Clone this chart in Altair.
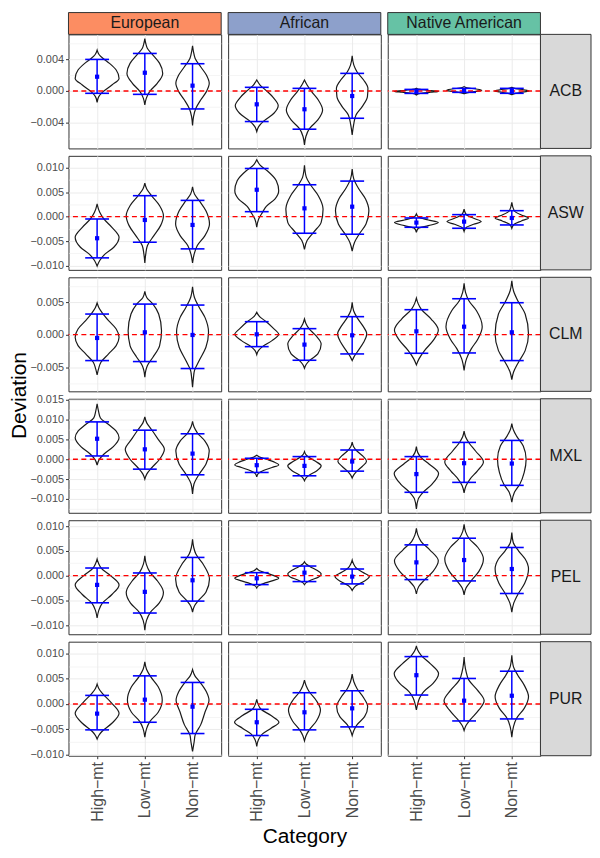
import altair as alt
import pandas as pd

FONT = "Liberation Sans"

groups = ["European", "African", "Native American"]
group_colors = ["#FC8D62", "#8DA0CB", "#66C2A5"]
pops = ["ACB", "ASW", "CLM", "MXL", "PEL", "PUR"]
cats = ["High−mt", "Low−mt", "Non−mt"]
ref_line = [0.0]

y_domain = {
    "ACB": [-0.0072, 0.0071],
    "ASW": [-0.0109, 0.01245],
    "CLM": [-0.0087, 0.0088],
    "MXL": [-0.0135, 0.01525],
    "PEL": [-0.01185, 0.0112],
    "PUR": [-0.01026, 0.01237],
}
y_major = {
    "ACB": [-0.004, 0.0, 0.004],
    "ASW": [-0.01, -0.005, 0.0, 0.005, 0.01],
    "CLM": [-0.005, 0.0, 0.005],
    "MXL": [-0.01, -0.005, 0.0, 0.005, 0.01, 0.015],
    "PEL": [-0.01, -0.005, 0.0, 0.005, 0.01],
    "PUR": [-0.01, -0.005, 0.0, 0.005, 0.01],
}
y_minor = {
    "ACB": [-0.006, -0.002, 0.002, 0.006],
    "ASW": [-0.0075, -0.0025, 0.0025, 0.0075],
    "CLM": [-0.0075, -0.0025, 0.0025, 0.0075],
    "MXL": [-0.0125, -0.0075, -0.0025, 0.0025, 0.0075, 0.0125],
    "PEL": [-0.0075, -0.0025, 0.0025, 0.0075],
    "PUR": [-0.0075, -0.0025, 0.0025, 0.0075],
}

# Violin outlines: knot positions (y) and half-widths (w, category units),
# order: European High/Low/Non, African High/Low/Non, Native American High/Low/Non
ACB = dict(
    y=[
        [-0.00142, -0.00071, -0.00008, 0.00075, 0.00158, 0.00263, 0.00346, 0.00408, 0.00458, 0.00513],
        [-0.00175, -0.00092, -0.00008, 0.00096, 0.00221, 0.00346, 0.0045, 0.00533, 0.00596, 0.00658],
        [-0.00433, -0.00321, -0.00217, -0.00113, -0.00008, 0.00096, 0.002, 0.00304, 0.00408, 0.00492, 0.00567],
        [-0.00508, -0.00446, -0.00375, -0.00279, -0.00183, -0.00092, 0.0, 0.00075, 0.00138],
        [-0.00675, -0.00571, -0.00475, -0.00363, -0.00238, -0.00113, -0.00008, 0.00075, 0.00138],
        [-0.0055, -0.00425, -0.003, -0.00196, -0.00071, 0.00033, 0.00138, 0.00242, 0.00325, 0.00442],
        [-0.0005, -0.0003, -0.00015, -0.00005, 0.00005, 0.0002, 0.00035],
        [-0.00035, -0.0002, -0.00005, 0.0001, 0.00025, 0.0004, 0.00055],
        [-0.00045, -0.0003, -0.00012, 0.0, 0.00015, 0.0003, 0.00045],
    ],
    w=[
        [0, 0.035, 0.125, 0.31, 0.46, 0.40, 0.26, 0.125, 0.04, 0],
        [0, 0.03, 0.10, 0.26, 0.375, 0.31, 0.17, 0.055, 0.02, 0],
        [0, 0.02, 0.07, 0.17, 0.29, 0.35, 0.29, 0.17, 0.055, 0.02, 0],
        [0, 0.04, 0.15, 0.36, 0.45, 0.36, 0.21, 0.07, 0],
        [0, 0.03, 0.10, 0.28, 0.38, 0.29, 0.15, 0.055, 0],
        [0, 0.03, 0.08, 0.21, 0.32, 0.33, 0.24, 0.10, 0.035, 0],
        [0, 0.08, 0.30, 0.46, 0.30, 0.08, 0],
        [0, 0.08, 0.25, 0.37, 0.25, 0.06, 0],
        [0, 0.08, 0.25, 0.36, 0.25, 0.08, 0],
    ],
    mean=[0.00179, 0.00229, 0.00067, -0.00167, -0.00229, -0.00063, -0.00008, 0.00008, 0.0],
    lo=[-0.00029, -0.00042, -0.00225, -0.00383, -0.00479, -0.00342, -0.0003, -0.00017, -0.00029],
    hi=[0.00396, 0.00471, 0.00342, 0.00046, 0.00033, 0.00221, 0.0002, 0.00033, 0.00033],
)

ASW = dict(
    y=[
        [-0.01014, -0.00898, -0.00762, -0.00626, -0.00422, -0.00218, -0.00048, 0.00088, 0.00259],
        [-0.00946, -0.00762, -0.00592, -0.00388, -0.00184, 0.0002, 0.00224, 0.00429, 0.00565, 0.00687],
        [-0.00946, -0.00762, -0.00592, -0.00388, -0.0015, 0.00122, 0.00327, 0.00463, 0.00612],
        [-0.00218, -0.00048, 0.00088, 0.00211, 0.00361, 0.00531, 0.00735, 0.00939, 0.01054, 0.01163],
        [-0.00673, -0.0049, -0.0032, -0.00116, 0.00156, 0.00429, 0.00633, 0.00803, 0.01054],
        [-0.00707, -0.00524, -0.00354, -0.0015, 0.00122, 0.00361, 0.00565, 0.00769, 0.00973],
        [-0.0032, -0.00238, -0.00184, -0.00122, -0.00068, -0.00014, 0.00054],
        [-0.003, -0.00218, -0.00156, -0.00102, -0.00034, 0.00034, 0.00156],
        [-0.00238, -0.00156, -0.00088, -0.00027, 0.00034, 0.00122, 0.00293],
    ],
    w=[
        [0, 0.055, 0.17, 0.35, 0.46, 0.31, 0.14, 0.055, 0],
        [0, 0.02, 0.055, 0.19, 0.33, 0.39, 0.31, 0.14, 0.04, 0],
        [0, 0.035, 0.10, 0.26, 0.355, 0.28, 0.14, 0.04, 0],
        [0, 0.04, 0.12, 0.20, 0.38, 0.46, 0.41, 0.22, 0.07, 0],
        [0, 0.055, 0.19, 0.35, 0.39, 0.29, 0.14, 0.04, 0],
        [0, 0.05, 0.15, 0.29, 0.35, 0.28, 0.14, 0.035, 0],
        [0, 0.04, 0.25, 0.46, 0.25, 0.05, 0],
        [0, 0.05, 0.20, 0.36, 0.20, 0.05, 0],
        [0, 0.05, 0.20, 0.35, 0.20, 0.05, 0],
    ],
    mean=[-0.00442, -0.00068, -0.0017, 0.00551, 0.0017, 0.00204, -0.00122, -0.00102, -0.00027],
    lo=[-0.00844, -0.00524, -0.0066, 0.00102, -0.0034, -0.0036, -0.00218, -0.00238, -0.0017],
    hi=[-0.00048, 0.00429, 0.00333, 0.00986, 0.00653, 0.00728, -0.00027, 0.00041, 0.00122],
)

CLM = dict(
    y=[
        [-0.00617, -0.00526, -0.00423, -0.00296, -0.00168, -0.00041, 0.00087, 0.00214, 0.00342, 0.00418, 0.00485],
        [-0.00653, -0.00551, -0.00474, -0.00347, -0.00168, 0.00061, 0.00316, 0.00469, 0.00571, 0.00663],
        [-0.00806, -0.00653, -0.00551, -0.00398, -0.00194, 0.00036, 0.00265, 0.00418, 0.00571, 0.00735],
        [-0.00306, -0.00245, -0.00184, -0.00092, 0.00005, 0.00097, 0.00199, 0.00276, 0.00342],
        [-0.00515, -0.00459, -0.00388, -0.00296, -0.00143, -0.00015, 0.00087, 0.00163, 0.0024],
        [-0.00398, -0.00337, -0.00245, -0.00117, 0.0001, 0.00138, 0.00265, 0.00367, 0.00495],
        [-0.00464, -0.00372, -0.00245, -0.00092, 0.00071, 0.0024, 0.00393, 0.0048, 0.00561],
        [-0.00551, -0.00372, -0.00219, -0.00066, 0.00122, 0.00367, 0.0052, 0.00648, 0.00786],
        [-0.00689, -0.00577, -0.00423, -0.00245, 0.0001, 0.00316, 0.0052, 0.00673, 0.00827],
    ],
    w=[
        [0, 0.03, 0.08, 0.24, 0.40, 0.46, 0.40, 0.24, 0.10, 0.035, 0],
        [0, 0.02, 0.055, 0.17, 0.31, 0.35, 0.29, 0.17, 0.04, 0],
        [0, 0.02, 0.04, 0.14, 0.28, 0.335, 0.26, 0.14, 0.04, 0],
        [0, 0.035, 0.12, 0.32, 0.46, 0.35, 0.20, 0.06, 0],
        [0, 0.035, 0.12, 0.28, 0.35, 0.24, 0.10, 0.035, 0],
        [0, 0.04, 0.125, 0.24, 0.305, 0.22, 0.10, 0.03, 0],
        [0, 0.055, 0.17, 0.35, 0.46, 0.31, 0.10, 0.035, 0],
        [0, 0.05, 0.15, 0.29, 0.38, 0.26, 0.10, 0.03, 0],
        [0, 0.035, 0.14, 0.28, 0.35, 0.28, 0.125, 0.035, 0],
    ],
    mean=[-0.00051, 0.00036, -0.00005, 0.00005, -0.00153, -0.0001, 0.00051, 0.00122, 0.00036],
    lo=[-0.00398, -0.00413, -0.0052, -0.00184, -0.00393, -0.00296, -0.00286, -0.00281, -0.00398],
    hi=[0.00316, 0.00469, 0.00454, 0.00199, 0.00092, 0.00276, 0.00383, 0.00551, 0.0049],
)

MXL = dict(
    y=[
        [-0.0015, -0.00017, 0.00125, 0.00317, 0.00542, 0.00708, 0.00875, 0.01042, 0.01208, 0.014],
        [-0.005, -0.00375, -0.00208, 0.0, 0.0025, 0.005, 0.0075, 0.00917, 0.01067],
        [-0.00875, -0.00625, -0.00375, -0.00125, 0.00208, 0.00458, 0.00667, 0.00817, 0.00958],
        [-0.00442, -0.00358, -0.00283, -0.00208, -0.00142, -0.00067, 0.0, 0.00058, 0.001],
        [-0.00542, -0.00475, -0.004, -0.00292, -0.00167, -0.00058, 0.00042, 0.00117, 0.00192],
        [-0.00475, -0.004, -0.00317, -0.00183, -0.0005, 0.00083, 0.00208, 0.00317, 0.00433],
        [-0.0125, -0.01, -0.00833, -0.00625, -0.00358, -0.00125, 0.00042, 0.00167, 0.00317],
        [-0.0085, -0.00667, -0.005, -0.00292, -0.00067, 0.00208, 0.00417, 0.00567, 0.00708],
        [-0.01083, -0.00833, -0.00625, -0.00333, 0.0, 0.00333, 0.00583, 0.0075, 0.009],
    ],
    w=[
        [0, 0.04, 0.14, 0.34, 0.46, 0.40, 0.24, 0.07, 0.03, 0],
        [0, 0.04, 0.15, 0.31, 0.41, 0.28, 0.14, 0.04, 0],
        [0, 0.03, 0.14, 0.28, 0.35, 0.26, 0.10, 0.03, 0],
        [0, 0.035, 0.14, 0.32, 0.46, 0.36, 0.20, 0.06, 0],
        [0, 0.03, 0.10, 0.26, 0.35, 0.24, 0.10, 0.03, 0],
        [0, 0.03, 0.085, 0.21, 0.30, 0.22, 0.10, 0.03, 0],
        [0, 0.04, 0.14, 0.33, 0.465, 0.27, 0.10, 0.03, 0],
        [0, 0.04, 0.125, 0.28, 0.405, 0.24, 0.10, 0.03, 0],
        [0, 0.055, 0.17, 0.26, 0.30, 0.24, 0.10, 0.03, 0],
    ],
    mean=[0.00517, 0.0025, 0.00142, -0.0015, -0.00167, -0.00058, -0.00375, -0.001, -0.00108],
    lo=[0.00083, -0.0025, -0.00392, -0.00333, -0.00417, -0.003, -0.00833, -0.00583, -0.00658],
    hi=[0.00942, 0.00733, 0.00642, 0.00025, 0.00067, 0.00233, 0.00067, 0.00425, 0.00475],
)

PEL = dict(
    y=[
        [-0.00857, -0.00703, -0.00556, -0.00382, -0.00187, 0.0, 0.00154, 0.00248, 0.00335],
        [-0.01104, -0.00904, -0.00736, -0.00556, -0.00335, -0.00114, 0.00067, 0.00234, 0.00402],
        [-0.00736, -0.00622, -0.00502, -0.00335, -0.00067, 0.00234, 0.00435, 0.00569, 0.00736],
        [-0.00248, -0.00207, -0.00161, -0.00107, -0.00054, 0.0, 0.0006, 0.001, 0.00147],
        [-0.00181, -0.00141, -0.00087, -0.00033, 0.00033, 0.00107, 0.00181, 0.00234, 0.00281],
        [-0.00301, -0.00254, -0.00201, -0.0012, -0.0002, 0.00067, 0.00154, 0.00234, 0.00315],
        [-0.00368, -0.00221, -0.00087, 0.00087, 0.00301, 0.00522, 0.00689, 0.00823, 0.00957],
        [-0.00388, -0.00248, -0.00114, 0.00087, 0.00335, 0.00569, 0.00756, 0.0089, 0.01037],
        [-0.00736, -0.00556, -0.00382, -0.00154, 0.00134, 0.00335, 0.00502, 0.00669, 0.0087],
    ],
    w=[
        [0, 0.035, 0.11, 0.31, 0.46, 0.28, 0.085, 0.03, 0],
        [0, 0.035, 0.12, 0.30, 0.39, 0.27, 0.11, 0.03, 0],
        [0, 0.035, 0.125, 0.28, 0.355, 0.22, 0.07, 0.025, 0],
        [0, 0.035, 0.14, 0.32, 0.46, 0.36, 0.18, 0.06, 0],
        [0, 0.035, 0.14, 0.29, 0.35, 0.26, 0.12, 0.035, 0],
        [0, 0.03, 0.085, 0.24, 0.36, 0.22, 0.085, 0.03, 0],
        [0, 0.05, 0.17, 0.35, 0.46, 0.28, 0.10, 0.03, 0],
        [0, 0.04, 0.14, 0.31, 0.405, 0.29, 0.10, 0.03, 0],
        [0, 0.04, 0.125, 0.27, 0.35, 0.28, 0.14, 0.03, 0],
    ],
    mean=[-0.00187, -0.00328, -0.00094, -0.00054, 0.0006, -0.0002, 0.00268, 0.00315, 0.00134],
    lo=[-0.00549, -0.00756, -0.00515, -0.00181, -0.0012, -0.00167, -0.0008, -0.00107, -0.00361],
    hi=[0.00154, 0.00054, 0.00368, 0.0006, 0.00194, 0.00134, 0.00622, 0.00756, 0.00569],
)

PUR = dict(
    y=[
        [-0.00697, -0.00625, -0.00546, -0.00382, -0.00184, 0.00033, 0.00211, 0.00309, 0.00395],
        [-0.00658, -0.00493, -0.00349, -0.00164, 0.00079, 0.00342, 0.00539, 0.00691, 0.00836],
        [-0.00941, -0.00743, -0.00612, -0.00414, -0.00164, 0.00079, 0.00243, 0.00441, 0.00559, 0.00684],
        [-0.00842, -0.00711, -0.00592, -0.0048, -0.00362, -0.0023, -0.00099, -0.00007, 0.00092],
        [-0.0073, -0.00625, -0.00513, -0.00336, -0.00118, 0.00079, 0.00243, 0.00362, 0.00474],
        [-0.00625, -0.00526, -0.00414, -0.0025, -0.00053, 0.00125, 0.00309, 0.00441, 0.00592],
        [-0.00118, 0.00013, 0.00125, 0.00243, 0.00408, 0.00605, 0.00803, 0.00967, 0.01066, 0.01151],
        [-0.00526, -0.00428, -0.00316, -0.00118, 0.00066, 0.00276, 0.00474, 0.00671, 0.00934],
        [-0.00658, -0.00447, -0.00283, -0.00086, 0.00145, 0.00375, 0.00572, 0.00737, 0.00967],
    ],
    w=[
        [0, 0.035, 0.10, 0.31, 0.46, 0.29, 0.11, 0.035, 0],
        [0, 0.035, 0.105, 0.28, 0.365, 0.28, 0.125, 0.035, 0],
        [0, 0.035, 0.055, 0.17, 0.26, 0.345, 0.29, 0.15, 0.05, 0],
        [0, 0.035, 0.12, 0.30, 0.465, 0.30, 0.085, 0.03, 0],
        [0, 0.035, 0.10, 0.25, 0.335, 0.24, 0.10, 0.035, 0],
        [0, 0.035, 0.10, 0.26, 0.325, 0.24, 0.10, 0.035, 0],
        [0, 0.03, 0.07, 0.15, 0.35, 0.465, 0.29, 0.10, 0.03, 0],
        [0, 0.04, 0.125, 0.31, 0.42, 0.28, 0.10, 0.035, 0],
        [0, 0.035, 0.10, 0.26, 0.35, 0.26, 0.125, 0.035, 0],
    ],
    mean=[-0.00191, 0.00086, -0.00053, -0.00362, -0.00164, -0.00086, 0.00572, 0.00066, 0.00164],
    lo=[-0.00513, -0.00362, -0.00586, -0.00625, -0.00513, -0.00454, 0.00178, -0.00336, -0.00296],
    hi=[0.00171, 0.00559, 0.00428, -0.00105, 0.00224, 0.00263, 0.00941, 0.00507, 0.00651],
)

DATA = {"ACB": ACB, "ASW": ASW, "CLM": CLM, "MXL": MXL, "PEL": PEL, "PUR": PUR}

# ---------------- layout / style ----------------
W, H = 154, 115
STRIP_W = 51
HEADER_H = 22
CAP = 0.25
GRID = "#EBEBEB"
DARK = "#333333"

label_expr_x = "[" + ",".join("'" + c + "'" for c in cats) + "][datum.value - 1]"


def panel(ri, gi):
    pop = pops[ri]
    d = DATA[pop]
    recs = []
    for ci, cat in enumerate(cats):
        k = gi * 3 + ci
        for j, (yy, ww) in enumerate(zip(d["y"][k], d["w"][k])):
            recs.append({"cat": cat, "pos": ci + 1, "k": j, "y": yy, "w": ww})
    vdf = pd.DataFrame(recs)
    sl = slice(gi * 3, gi * 3 + 3)
    sdf = pd.DataFrame({"cat": cats, "pos": [1, 2, 3],
                        "mean": d["mean"][sl], "lo": d["lo"][sl], "hi": d["hi"][sl]})

    majors = y_major[pop]
    step = round(majors[1] - majors[0], 6)
    is_major = f"abs(datum.value/{step} - round(datum.value/{step})) < 1e-6"
    ticks_all = sorted(majors + y_minor[pop])
    grid_w = {"condition": {"test": is_major, "value": 1.0}, "value": 0.5}

    xs = alt.Scale(domain=[0.4, 3.6], nice=False, zero=False)
    ys = alt.Scale(domain=y_domain[pop], nice=False, zero=False)

    bottom = ri == len(pops) - 1
    if bottom:
        xaxis = alt.Axis(values=[1, 2, 3], labelExpr=label_expr_x, labelAngle=270,
                         labelFontSize=16, labelPadding=3, tickSize=3, domain=False,
                         grid=True, gridColor=GRID, gridWidth=1.0,
                         title="Category" if gi == 1 else None,
                         titleFontSize=21, titlePadding=5, titleFontWeight="normal")
    else:
        xaxis = alt.Axis(values=[1, 2, 3], labels=False, ticks=False, domain=False,
                         grid=True, gridColor=GRID, gridWidth=1.0, title=None)

    if gi == 0:
        yopts = dict(values=ticks_all,
                     labelExpr=f"{is_major} ? format(datum.value, '.3f') : ''",
                     labelFontSize=11, labelPadding=2, tickSize=3,
                     tickOpacity={"condition": {"test": is_major, "value": 1}, "value": 0},
                     domain=False, grid=True, gridColor=GRID, gridWidth=grid_w)
        if ri == 2:
            yaxis = alt.Axis(title="Deviation", titleFontSize=21, titleFontWeight="normal",
                             titleAngle=270, titleX=-43, titleY=H + 3.75,
                             titleBaseline="alphabetic", titleAlign="center", **yopts)
        else:
            yaxis = alt.Axis(title=None, **yopts)
    else:
        yaxis = alt.Axis(values=ticks_all, labels=False, ticks=False, domain=False,
                         grid=True, gridColor=GRID, gridWidth=grid_w, title=None)

    def X(f):
        return alt.X(f, scale=xs, axis=xaxis)

    def Y(f):
        return alt.Y(f, scale=ys, axis=yaxis)

    violins = alt.Chart(vdf).transform_calculate(
        xl="datum.pos - datum.w", xr="datum.pos + datum.w"
    ).mark_area(orient="horizontal", interpolate="monotone", fill="white",
                stroke="#1a1a1a", strokeWidth=1.2).encode(
        y=Y("y:Q"), x=X("xl:Q"), x2="xr:Q", detail="cat:N")

    zero = alt.Chart(pd.DataFrame({"v": ref_line})).mark_rule(
        color="#FF0000", strokeDash=[5, 3.5], strokeWidth=1.3).encode(y=Y("v:Q"))

    base = alt.Chart(sdf).transform_calculate(
        cl=f"datum.pos - {CAP}", cr=f"datum.pos + {CAP}")
    bars = base.mark_rule(color="#0000FF", strokeWidth=1.5).encode(
        x=X("pos:Q"), y=Y("lo:Q"), y2="hi:Q")
    cap_lo = base.mark_rule(color="#0000FF", strokeWidth=1.6).encode(
        x=X("cl:Q"), x2="cr:Q", y=Y("lo:Q"))
    cap_hi = base.mark_rule(color="#0000FF", strokeWidth=1.6).encode(
        x=X("cl:Q"), x2="cr:Q", y=Y("hi:Q"))
    means = base.mark_square(color="#0000FF", size=18, opacity=1).encode(
        x=X("pos:Q"), y=Y("mean:Q"))

    layers = [violins, zero, bars, cap_lo, cap_hi, means]

    if ri == 0:
        hdf = pd.DataFrame({"label": [groups[gi]]})
        layers.append(alt.Chart(hdf).mark_rect(fill=group_colors[gi], stroke=DARK, strokeWidth=1).encode(
            x=alt.value(0), x2=alt.value(W), y=alt.value(-HEADER_H), y2=alt.value(0)))
        layers.append(alt.Chart(hdf).mark_text(font=FONT, fontSize=16, color="#1a1a1a").encode(
            x=alt.value(W / 2), y=alt.value(-HEADER_H / 2), text="label:N"))
    if gi == 2:
        rdf = pd.DataFrame({"label": [pop]})
        layers.append(alt.Chart(rdf).mark_rect(fill="#D9D9D9", stroke=DARK, strokeWidth=1).encode(
            x=alt.value(W), x2=alt.value(W + STRIP_W), y=alt.value(0), y2=alt.value(H)))
        layers.append(alt.Chart(rdf).mark_text(font=FONT, fontSize=16, color="#1a1a1a").encode(
            x=alt.value(W + STRIP_W / 2), y=alt.value(H / 2), text="label:N"))

    return alt.layer(*layers).properties(width=W, height=H)


panels = [panel(ri, gi) for ri in range(len(pops)) for gi in range(3)]

chart = alt.concat(
    *panels, columns=3, spacing={"row": 7.5, "column": 7}, bounds="flush"
).resolve_scale(
    x="independent", y="independent"
).properties(
    padding=0, background="white"
).configure_view(
    stroke=DARK, strokeWidth=1
).configure_axis(
    labelFont=FONT, titleFont=FONT, labelColor="#4D4D4D", titleColor="#000000",
    tickColor=DARK
)

chart.save("out.html", embed_options={"renderer": "svg", "actions": False})
